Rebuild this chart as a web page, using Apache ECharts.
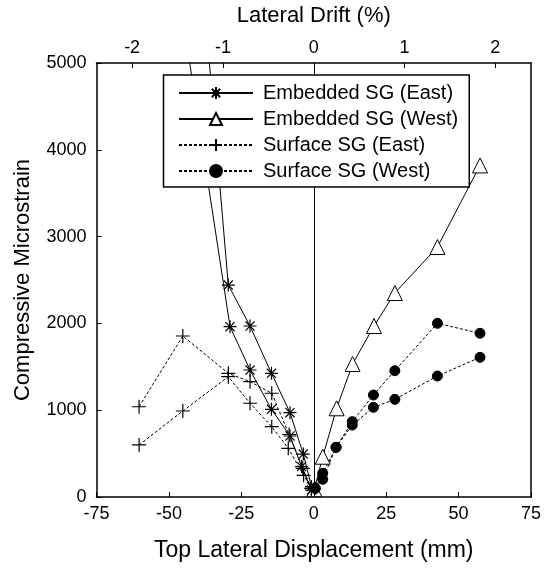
<!DOCTYPE html>
<html>
<head>
<meta charset="utf-8">
<script src="https://cdn.jsdelivr.net/npm/echarts@6/dist/echarts.min.js"></script>
<style>html,body{margin:0;padding:0;background:#fff}#c{width:548px;height:571px}</style>
</head>
<body>
<div id="c"></div>
<script>
// ---- data (x: top lateral displacement mm, y: compressive microstrain) ----
const seriesNames = ['Embedded SG (East)', 'Embedded SG (West)', 'Surface SG (East)', 'Surface SG (West)'];
const embeddedEastCycle1 = [[-37.3, 5500], [-29.5, 2442], [-22.0, 1970], [-14.6, 1425], [-8.2, 971], [-3.6, 495], [-0.8, 120]];
const embeddedEastCycle2 = [[-45.1, 5500], [-28.9, 1962], [-22.0, 1463], [-14.6, 1010], [-8.2, 703], [-4.2, 350], [-0.8, 80]];
const embeddedWest = [[0.2, 90], [3.1, 464], [7.9, 1022], [13.4, 1532], [20.8, 1970], [28.0, 2350], [42.7, 2880], [57.4, 3820]];
const surfaceEastCycle1 = [[-60.3, 1040], [-45.2, 1855], [-29.5, 1425], [-22.0, 1329], [-14.5, 1195], [-8.5, 720], [-3.8, 330], [-0.8, 100]];
const surfaceEastCycle2 = [[-60.3, 600], [-45.2, 991], [-29.5, 1386], [-22.0, 1080], [-14.5, 810], [-8.8, 561], [-3.5, 250], [-0.8, 100]];
const surfaceWestCycle1 = [[0.5, 100], [3.1, 204], [7.7, 572], [13.3, 868], [20.6, 1175], [28.0, 1455], [42.7, 2001], [57.4, 1886]];
const surfaceWestCycle2 = [[0.5, 100], [3.1, 273], [7.7, 572], [13.3, 829], [20.6, 1033], [28.0, 1125], [42.7, 1394], [57.4, 1609]];
const xTicks = [-75, -50, -25, 0, 25, 50, 75];
const yTicks = [0, 1000, 2000, 3000, 4000, 5000];
const driftTicks = [-2, -1, 0, 1, 2];
const mmPerPercentDrift = 31.35;

// ---- styling ----
const FONT = 'Liberation Sans, Arial, sans-serif';
const asteriskPath = 'path://M10 0L10 20M0 10L20 10M3 3L17 17M3 17L17 3';
const plusPath = 'path://M10 0L10 20M0 10L20 10';

function mk(name, data, kind) {
  const s = {
    name: name, type: 'line', data: data, clip: true, z: 3,
    symbolKeepAspect: true,
    lineStyle: { color: '#000', width: 1 },
    itemStyle: { color: '#000', borderColor: '#000', borderWidth: 1 },
    emphasis: { disabled: true }, animation: false
  };
  if (kind === 'asterisk') { s.symbol = asteriskPath; s.symbolSize = 13; s.itemStyle.borderWidth = 1.2; }
  if (kind === 'triangle') { s.symbol = 'triangle'; s.symbolSize = 15; s.itemStyle.color = '#fff'; }
  if (kind === 'plus') { s.symbol = plusPath; s.symbolSize = 14; s.itemStyle.borderWidth = 1.2; s.lineStyle.type = [3, 2]; }
  if (kind === 'dot') { s.symbol = 'circle'; s.symbolSize = 10; s.lineStyle.type = [3, 2]; }
  return s;
}

const series = [
  mk(seriesNames[0], embeddedEastCycle1, 'asterisk'),
  mk(seriesNames[1], embeddedWest, 'triangle'),
  mk(seriesNames[2], surfaceEastCycle1, 'plus'),
  mk(seriesNames[3], surfaceWestCycle1, 'dot'),
  mk(seriesNames[0], embeddedEastCycle2, 'asterisk'),
  mk(seriesNames[2], surfaceEastCycle2, 'plus'),
  mk(seriesNames[3], surfaceWestCycle2, 'dot')
];
series[0].markLine = {
  silent: true, symbol: 'none', label: { show: false },
  lineStyle: { color: '#000', width: 1, type: 'solid' },
  data: [{ xAxis: 0 }], animation: false
};

const axisLineStyle = { color: '#000', width: 1.5 };
const labelStyle = { color: '#000', fontSize: 18, fontFamily: FONT };
const nameStyle = { color: '#000', fontSize: 22, fontFamily: FONT };

const option = {
  backgroundColor: '#fff',
  animation: false,
  grid: { left: 96.5, right: 17, top: 63, bottom: 74, containLabel: false },
  legend: {
    data: seriesNames, orient: 'vertical', left: 163.5, top: 75,
    backgroundColor: '#fff', borderColor: '#000', borderWidth: 1.5, borderRadius: 0,
    padding: [8, 11, 6, 14.5], itemWidth: 74, itemHeight: 15, itemGap: 6,
    textStyle: { color: '#000', fontSize: 20, fontFamily: FONT, lineHeight: 20, padding: [0, 0, 0, 5] },
    selectedMode: false, z: 10
  },
  xAxis: [
    {
      type: 'value', position: 'bottom', min: xTicks[0], max: xTicks[xTicks.length - 1], interval: 25,
      axisLine: { show: true, onZero: false, lineStyle: axisLineStyle },
      axisTick: { show: true, inside: true, length: 5, lineStyle: { color: '#000', width: 1 } },
      axisLabel: Object.assign({ margin: 8, formatter: v => String(v) }, labelStyle),
      splitLine: { show: false },
      name: 'Top Lateral Displacement (mm)', nameLocation: 'middle', nameGap: 42,
      nameTextStyle: Object.assign({}, nameStyle, { fontSize: 23 })
    },
    {
      type: 'value', position: 'top', min: xTicks[0] / mmPerPercentDrift, max: xTicks[xTicks.length - 1] / mmPerPercentDrift,
      axisLine: { show: true, onZero: false, lineStyle: axisLineStyle },
      axisTick: { show: true, inside: true, length: 5, customValues: driftTicks, lineStyle: { color: '#000', width: 1 } },
      axisLabel: Object.assign({ margin: 6, customValues: driftTicks, formatter: v => String(Math.round(v)) }, labelStyle),
      splitLine: { show: false },
      name: 'Lateral Drift (%)', nameLocation: 'middle', nameGap: 36, nameTextStyle: nameStyle
    }
  ],
  yAxis: [
    {
      type: 'value', position: 'left', min: yTicks[0], max: yTicks[yTicks.length - 1], interval: 1000,
      axisLine: { show: true, onZero: false, lineStyle: axisLineStyle },
      axisTick: { show: true, inside: true, length: 5, lineStyle: { color: '#000', width: 1 } },
      axisLabel: Object.assign({ margin: 10, formatter: v => String(v) }, labelStyle),
      splitLine: { show: false },
      name: 'Compressive Microstrain', nameLocation: 'middle', nameGap: 63, nameTextStyle: nameStyle
    },
    {
      type: 'value', position: 'right', min: yTicks[0], max: yTicks[yTicks.length - 1],
      axisLine: { show: true, onZero: false, lineStyle: axisLineStyle },
      axisTick: { show: false }, axisLabel: { show: false }, splitLine: { show: false }
    }
  ],
  series: series
};

const chart = echarts.init(document.getElementById('c'), null, { renderer: 'canvas' });
chart.setOption(option);
</script>
</body>
</html>
